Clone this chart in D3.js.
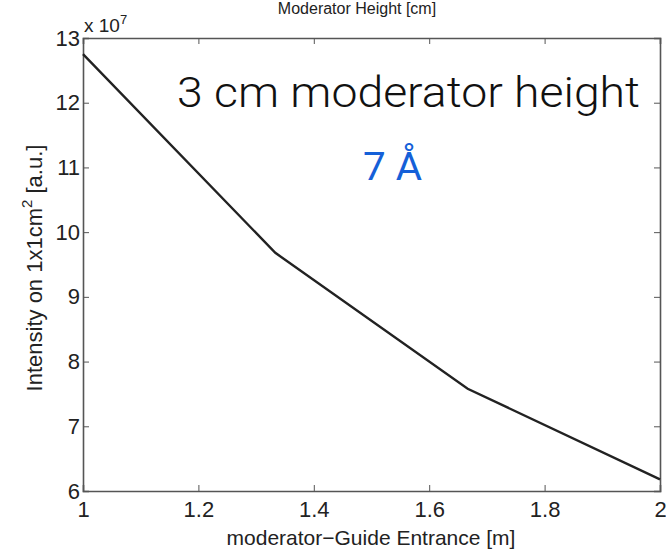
<!DOCTYPE html>
<html><head><meta charset="utf-8">
<script src="https://cdn.jsdelivr.net/npm/d3@7"></script>
<style>
html,body{margin:0;padding:0;background:#fff;}
svg{display:block;}
</style>
</head><body>
<svg id="chart" width="666" height="551"></svg>
<script>
// Data
const distances = [1, 1.3333, 1.6667, 2];
const intensity = [12.75, 9.68, 7.58, 6.18]; // x 10^7
const xTicks = [1, 1.2, 1.4, 1.6, 1.8, 2];
const yTicks = [6, 7, 8, 9, 10, 11, 12, 13];

const svg = d3.select("#chart");
const m = {left: 83, right: 6, top: 38, bottom: 60};
const W = 666, H = 551;
const x = d3.scaleLinear().domain([1, 2]).range([m.left, W - m.right]);
const y = d3.scaleLinear().domain([6, 13]).range([H - m.bottom, m.top]);

const font = "'Liberation Sans', Arial, sans-serif";
const axisColor = "#555";

// axes
const gx = svg.append("g").attr("transform", `translate(0,${y(6)})`)
  .call(d3.axisBottom(x).tickValues(xTicks).tickSize(-6).tickPadding(13).tickFormat(d3.format("~g")));
const gxt = svg.append("g").attr("transform", `translate(0,${y(13)})`)
  .call(d3.axisTop(x).tickValues(xTicks).tickSize(-6).tickFormat(""));
const gy = svg.append("g").attr("transform", `translate(${x(1)},0)`)
  .call(d3.axisLeft(y).tickValues(yTicks).tickSize(-6).tickPadding(5).tickFormat(d3.format("d")));
const gyr = svg.append("g").attr("transform", `translate(${x(2)},0)`)
  .call(d3.axisRight(y).tickValues(yTicks).tickSize(-6).tickFormat(""));

[gx, gxt, gy, gyr].forEach(g => {
  g.select(".domain").attr("stroke", axisColor).attr("stroke-width", 1.6);
  g.selectAll(".tick line").attr("stroke", axisColor).attr("stroke-width", 1);
  g.selectAll("text").attr("font-family", font).attr("font-size", 22).attr("fill", "#222");
});
gx.selectAll(".tick text").attr("dy", "0.6em");
gy.selectAll(".tick text").attr("dx", "2");

// exponent label
const ex = svg.append("text").attr("x", x(1) + 1).attr("y", 32)
  .attr("font-family", font).attr("font-size", 19).attr("fill", "#222");
ex.append("tspan").text("x 10");
ex.append("tspan").attr("font-size", 13).attr("dy", -8).text("7");

// line
const line = d3.line().x((d, i) => x(distances[i])).y(d => y(d));
svg.append("path").datum(intensity)
  .attr("d", line).attr("fill", "none").attr("stroke", "#222").attr("stroke-width", 2.4);

// title
svg.append("text").attr("x", 357).attr("y", 14).attr("text-anchor", "middle")
  .attr("font-family", font).attr("font-size", 16).attr("fill", "#222")
  .text("Moderator Height [cm]");

// x axis title
svg.append("text").attr("x", 371).attr("y", 545).attr("text-anchor", "middle")
  .attr("font-family", font).attr("font-size", 21).attr("fill", "#222")
  .text("moderator\u2212Guide Entrance [m]");

// y axis title
const yl = svg.append("text").attr("transform", "translate(42,268) rotate(-90)")
  .attr("text-anchor", "middle").attr("font-family", font).attr("font-size", 22).attr("fill", "#222");
yl.append("tspan").text("Intensity on 1x1cm");
yl.append("tspan").attr("font-size", 15).attr("dy", -10).text("2");
yl.append("tspan").attr("dy", 10).text(" [a.u.]");

// annotations
svg.append("text").attr("x", 177).attr("y", 107)
  .attr("font-family", "Roboto, 'Open Sans', sans-serif").attr("font-weight", 300)
  .attr("font-size", 43).attr("fill", "#111")
  .attr("textLength", 463).attr("lengthAdjust", "spacingAndGlyphs")
  .text("3 cm moderator height");
svg.append("text").attr("x", 363).attr("y", 180)
  .attr("font-family", "Roboto, 'Open Sans', sans-serif").attr("font-weight", 400)
  .attr("font-size", 38).attr("fill", "#1560d8")
  .attr("textLength", 59).attr("lengthAdjust", "spacingAndGlyphs")
  .text("7 \u00C5");
</script>
</body></html>
